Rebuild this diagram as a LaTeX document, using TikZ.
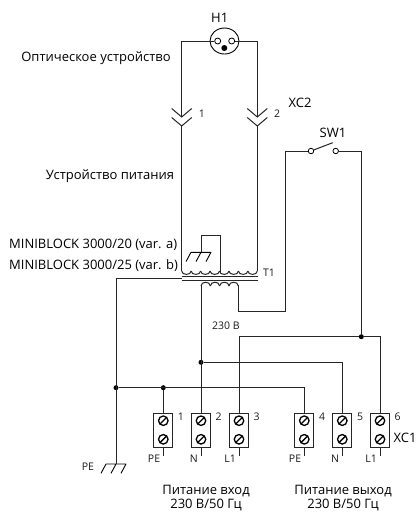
\documentclass[tikz,border=0pt]{standalone}
\usepackage{fontspec}
\setmainfont{Open Sans}
\usetikzlibrary{positioning,shapes.geometric}
\tikzset{
    %Define style for wires
    wire/.style={
           line width=1pt,
           draw=black!85},
    % Define terminal block
    klemme/.style={
           rectangle,
           draw=black!85, line width=1pt,
           minimum width=19pt,
           minimum height=34pt,
           inner sep=0pt},
    screw/.style={
           circle,
           draw=black, line width=1.3pt,
           minimum size=9.5pt,
           inner sep=0pt,
           path picture={\draw[line width=1.3pt] (path picture bounding box.south west) -- (path picture bounding box.north east);}},
    junction/.style={
           circle,
           fill=black,
           minimum size=5pt,
           inner sep=0pt},
    contact/.style={
           circle,
           draw=black, line width=0.8pt,
           fill=white,
           minimum size=5.5pt,
           inner sep=0pt},
    lbl/.style={
           font=\fontsize{13pt}{15pt}\selectfont,
           inner sep=0pt,
           text=black},
    small/.style={
           font=\fontsize{10.5pt}{12pt}\selectfont,
           inner sep=0pt,
           text=black!90},
    % Define plug halves and earth
    chevron/.pic={
           \draw[wire] (-10,-8.5) -- (0,0) -- (10,-8.5);},
    earth/.pic={
           \draw[line width=0.9pt] (-10,0) -- (10,0)
               (-10,0) -- (-15,9.3) (0,0) -- (-5,9.3) (10,0) -- (5,9.3);},
}

\begin{document}
\begin{tikzpicture}[x=1pt,y=-1pt]
 \useasboundingbox (0,0) rectangle (419,512);
 %nodes
    \node[ellipse,draw=black,line width=0.9pt,minimum width=29pt,minimum height=26pt,inner sep=0pt] (lamp) at (224.5,41) {};
    \node[contact,minimum size=6pt] (pinl) at (217.7,41) {};
    \node[contact,minimum size=6pt] (pinr) at (231.7,41) {};
    \node[junction,minimum size=6pt] (pine) at (224.3,48) {};
    \node[lbl] (h1) at (219.7,18) {H1};
    \node[lbl] (optic) at (96,58) {Оптическое устройство};
    \node[lbl] (power) at (110,176) {Устройство питания};
    \node[lbl,anchor=west] (blocka) at (9,245) {MINIBLOCK 3000/20 (var. a)};
    \node[lbl,anchor=west] (blockb) at (9,266) {MINIBLOCK 3000/25 (var. b)};
    \node[small] (t1) at (269,273) {T1};
    \node[small] (volt) at (226,326) {230 В};
    \node[small] (pin1) at (202,114) {1};
    \node[small] (pin2) at (277,114) {2};
    \node[lbl] (xc2) at (300,103) {XC2};
    \node[lbl] (sw1) at (333,133) {SW1};
    \node[lbl] (xc1) at (405,438) {XC1};
    \node[small] (pe) at (88,467) {PE};
    \node[lbl,anchor=base] (inA) at (206,494.6) {Питание вход};
    \node[lbl,anchor=base] (inB) at (206,508.2) {230 В/50 Гц};
    \node[lbl,anchor=base] (outA) at (343,494.6) {Питание выход};
    \node[lbl,anchor=base] (outB) at (343,508.2) {230 В/50 Гц};
 %terminals
    \foreach \name/\xpos/\num/\marksh in {a/163.3/1/PE,b/201/2/N,c/239/3/L1,d/304.3/4/PE,e/342.3/5/N,f/380/6/L1} {
      \node[klemme] (\name) at (\xpos,430) {};
      \node[screw] (\name s1) at (\xpos,420.7) {};
      \node[screw] (\name s2) at (\xpos,439.3) {};
      \node[small] (\name n) at (\xpos+17.7,417) {\num};
      \node[small,anchor=east] (\name l) at (\xpos-3,459) {\marksh};
      \coordinate (\name e) at (\xpos,455.5);
      \draw[wire] (\name.south) -- (\name e);
    }
 %junctions
    \coordinate (c1a) at (181.7,117);
    \coordinate (c1b) at (181.7,126);
    \coordinate (c2a) at (257.3,117);
    \coordinate (c2b) at (257.3,126);
    \coordinate (coilL) at (181.7,271);
    \coordinate (coilR) at (257.3,271);
    \coordinate (coreL) at (181.7,278);
    \coordinate (sec1) at (201,285);
    \coordinate (sec2) at (238.3,285);
    \coordinate (shA) at (201,252.3);
    \coordinate (shB) at (220,235.3);
    \coordinate (shC) at (220,272);
    \coordinate (gndA) at (116,464);
    \node[contact] (swa) at (311,151) {};
    \node[contact] (swb) at (335.7,151) {};
    \coordinate (swt) at (332.7,142.7);
    \node[junction] (jpe) at (116,387.7) {};
    \node[junction] (jpa) at (163.3,387.7) {};
    \node[junction] (jn) at (201,362.3) {};
    \node[junction] (jl) at (361.3,336.7) {};
 %plugs, coils and earth
    \pic at (c1a) {chevron};
    \pic at (c1b) {chevron};
    \pic at (c2a) {chevron};
    \pic at (c2b) {chevron};
    \pic at (shA) {earth};
    \pic at (gndA) {earth};
    \foreach \xpos in {181.7,191.15,200.6,210.05,219.5,228.95,238.4,247.85}
      \draw[wire] (\xpos,271) .. controls (\xpos,275.5) and (\xpos+9.45,275.5) .. (\xpos+9.45,271);
    \foreach \xpos in {201,210.33,219.66,228.99}
      \draw[wire] (\xpos,286) .. controls (\xpos,281) and (\xpos+9.33,281) .. (\xpos+9.33,286);
    \draw[wire] (181.7,276) -- (257.6,276);
    \draw[wire] (181.7,280) -- (257.6,280);
 %edges
    \draw[wire] (pinl.west) -| (c1a);
    \draw[wire] (pinr.east) -| (c2a);
    \draw[wire] (c1b) -- (coilL);
    \draw[wire] (c2b) -- (coilR);
    \draw[wire] (shA) |- (shB) -- (shC);
    \draw[wire] (coreL) -| (gndA);
    \draw[wire] (sec1) -- (b.north);
    \draw[wire] (sec2) |- (285.7,311.7) |- (swa.west);
    \draw[wire] (swa) -- (swt);
    \draw[wire] (swb.east) -| (jl);
    \draw[wire] (c.north) |- (jl);
    \draw[wire] (jl) -| (f.north);
    \draw[wire] (jn) -| (e.north);
    \draw[wire] (jpe) -| (d.north);
    \draw[wire] (jpa) -- (a.north);
  \end{tikzpicture}
\end{document}
